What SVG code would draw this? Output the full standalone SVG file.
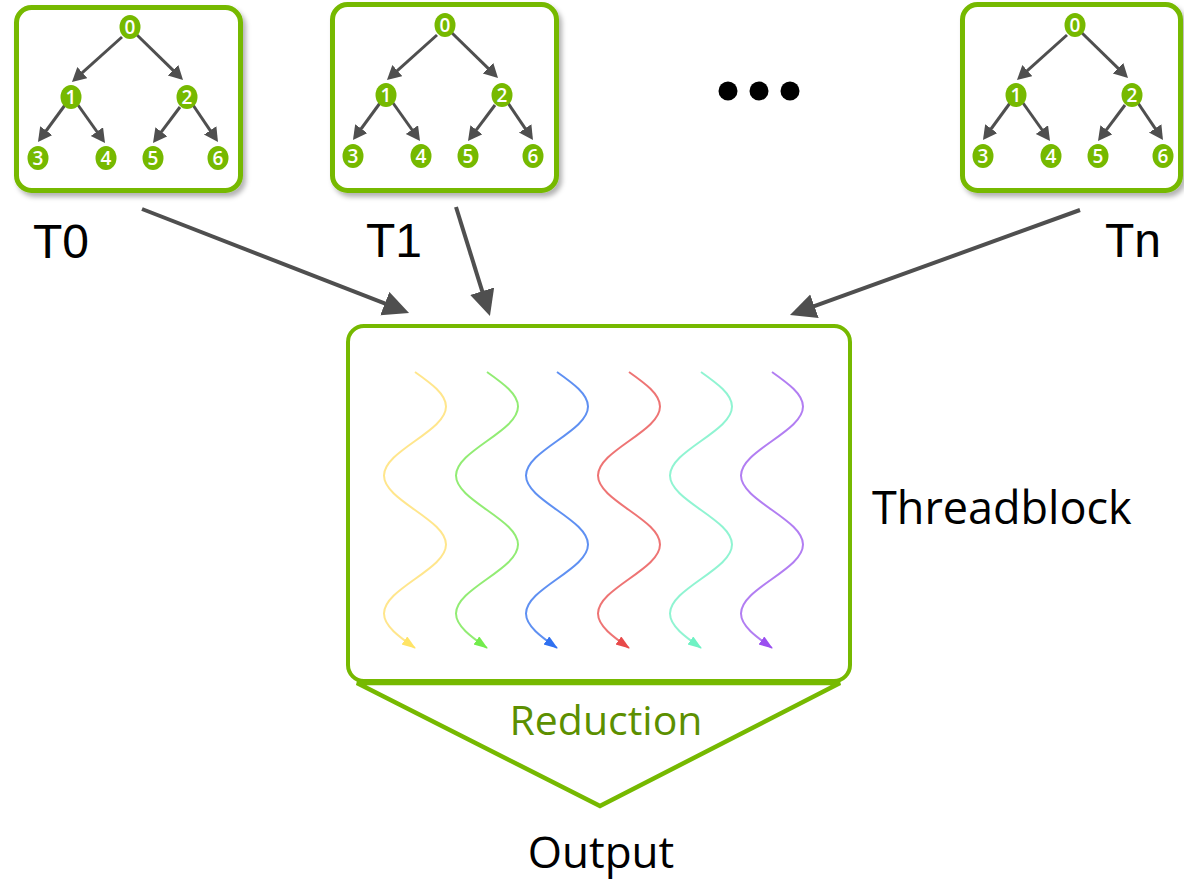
<svg xmlns="http://www.w3.org/2000/svg" width="1184" height="881" viewBox="0 0 1184 881">
  <style>
    .box { fill: #fff; stroke: #76b900; stroke-width: 5; }
    .node { fill: #76b900; }
    .nlabel { fill: #fff; font-family: "Open Sans", "DejaVu Sans", sans-serif; font-size: 19px; font-weight: 600; text-anchor: middle; }
    .edge { stroke: #4f4f4f; stroke-width: 3; fill: none; marker-end: url(#treeHead); }
    .link { stroke: #4f4f4f; stroke-width: 4; fill: none; marker-end: url(#linkHead); }
    .tlabel { font-family: "Liberation Sans", Arial, sans-serif; font-size: 48px; fill: #000; }
    .caption { font-family: "Open Sans", "DejaVu Sans", sans-serif; fill: #000; }
    .wave { fill: none; stroke-width: 2; }
  </style>
  <defs>
    <filter id="shadow" x="-10%" y="-10%" width="125%" height="125%">
      <feDropShadow dx="3" dy="4" stdDeviation="2.5" flood-color="#000" flood-opacity="0.3"/>
    </filter>
    <marker id="treeHead" markerUnits="userSpaceOnUse" markerWidth="15" markerHeight="16" refX="6" refY="7.5" orient="auto">
      <path d="M0,0 L14,7.5 L0,15 z" fill="#4f4f4f"/>
    </marker>
    <marker id="linkHead" markerUnits="userSpaceOnUse" markerWidth="28" markerHeight="26" refX="6" refY="12.5" orient="auto">
      <path d="M0,0 L26,12.5 L0,25 z" fill="#4f4f4f"/>
    </marker>
    <marker id="hYellow" markerUnits="userSpaceOnUse" markerWidth="16" markerHeight="11" refX="13" refY="5" orient="auto">
      <path d="M0,0 L14,5 L0,10 z" fill="#ffe466"/>
    </marker>
    <marker id="hGreen" markerUnits="userSpaceOnUse" markerWidth="16" markerHeight="11" refX="13" refY="5" orient="auto">
      <path d="M0,0 L14,5 L0,10 z" fill="#72ec4c"/>
    </marker>
    <marker id="hBlue" markerUnits="userSpaceOnUse" markerWidth="16" markerHeight="11" refX="13" refY="5" orient="auto">
      <path d="M0,0 L14,5 L0,10 z" fill="#2f70f0"/>
    </marker>
    <marker id="hRed" markerUnits="userSpaceOnUse" markerWidth="16" markerHeight="11" refX="13" refY="5" orient="auto">
      <path d="M0,0 L14,5 L0,10 z" fill="#e84a4a"/>
    </marker>
    <marker id="hTeal" markerUnits="userSpaceOnUse" markerWidth="16" markerHeight="11" refX="13" refY="5" orient="auto">
      <path d="M0,0 L14,5 L0,10 z" fill="#6ff2c4"/>
    </marker>
    <marker id="hPurple" markerUnits="userSpaceOnUse" markerWidth="16" markerHeight="11" refX="13" refY="5" orient="auto">
      <path d="M0,0 L14,5 L0,10 z" fill="#9b4ff0"/>
    </marker>
  </defs>

  <rect width="1184" height="881" fill="#fff"/>

  <!-- Tree T0 -->
  <g id="tree-T0" transform="translate(130,27)">
    <rect class="box" x="-113.5" y="-19.5" width="224" height="183" rx="15" filter="url(#shadow)"/>
    <path class="edge" d="M-8,10 L-52.1,49.6"/>
    <path class="edge" d="M7,8 L47.3,47.4"/>
    <path class="edge" d="M-65,78 L-87.3,108.5"/>
    <path class="edge" d="M-52,78 L-29.6,109.5"/>
    <path class="edge" d="M50,80 L27.8,109.6"/>
    <path class="edge" d="M63,78 L83.5,108.4"/>
    <ellipse class="node" cx="0" cy="0" rx="10.5" ry="12"/><text class="nlabel" x="0" y="7">0</text>
    <ellipse class="node" cx="-59" cy="70" rx="10.5" ry="12"/><text class="nlabel" x="-59" y="77">1</text>
    <ellipse class="node" cx="57" cy="70" rx="10.5" ry="12"/><text class="nlabel" x="57" y="77">2</text>
    <ellipse class="node" cx="-92" cy="131" rx="10.5" ry="12"/><text class="nlabel" x="-92" y="138">3</text>
    <ellipse class="node" cx="-24" cy="131" rx="10.5" ry="12"/><text class="nlabel" x="-24" y="138">4</text>
    <ellipse class="node" cx="23" cy="131" rx="10.5" ry="12"/><text class="nlabel" x="23" y="138">5</text>
    <ellipse class="node" cx="88" cy="131" rx="10.5" ry="12"/><text class="nlabel" x="88" y="138">6</text>
  </g>

  <!-- Tree T1 -->
  <g id="tree-T1" transform="translate(445,25)">
    <rect class="box" x="-112.5" y="-20.5" width="224" height="186" rx="15" filter="url(#shadow)"/>
    <path class="edge" d="M-8,10 L-52.1,49.6"/>
    <path class="edge" d="M7,8 L47.3,47.4"/>
    <path class="edge" d="M-65,78 L-87.3,108.5"/>
    <path class="edge" d="M-52,78 L-29.6,109.5"/>
    <path class="edge" d="M50,80 L27.8,109.6"/>
    <path class="edge" d="M63,78 L83.5,108.4"/>
    <ellipse class="node" cx="0" cy="0" rx="10.5" ry="12"/><text class="nlabel" x="0" y="7">0</text>
    <ellipse class="node" cx="-59" cy="70" rx="10.5" ry="12"/><text class="nlabel" x="-59" y="77">1</text>
    <ellipse class="node" cx="57" cy="70" rx="10.5" ry="12"/><text class="nlabel" x="57" y="77">2</text>
    <ellipse class="node" cx="-92" cy="131" rx="10.5" ry="12"/><text class="nlabel" x="-92" y="138">3</text>
    <ellipse class="node" cx="-24" cy="131" rx="10.5" ry="12"/><text class="nlabel" x="-24" y="138">4</text>
    <ellipse class="node" cx="23" cy="131" rx="10.5" ry="12"/><text class="nlabel" x="23" y="138">5</text>
    <ellipse class="node" cx="88" cy="131" rx="10.5" ry="12"/><text class="nlabel" x="88" y="138">6</text>
  </g>

  <!-- Tree Tn -->
  <g id="tree-Tn" transform="translate(1075,25)">
    <rect class="box" x="-112.5" y="-20.5" width="218" height="186" rx="15" filter="url(#shadow)"/>
    <path class="edge" d="M-8,10 L-52.1,49.6"/>
    <path class="edge" d="M7,8 L47.3,47.4"/>
    <path class="edge" d="M-65,78 L-87.3,108.5"/>
    <path class="edge" d="M-52,78 L-29.6,109.5"/>
    <path class="edge" d="M50,80 L27.8,109.6"/>
    <path class="edge" d="M63,78 L83.5,108.4"/>
    <ellipse class="node" cx="0" cy="0" rx="10.5" ry="12"/><text class="nlabel" x="0" y="7">0</text>
    <ellipse class="node" cx="-59" cy="70" rx="10.5" ry="12"/><text class="nlabel" x="-59" y="77">1</text>
    <ellipse class="node" cx="57" cy="70" rx="10.5" ry="12"/><text class="nlabel" x="57" y="77">2</text>
    <ellipse class="node" cx="-92" cy="131" rx="10.5" ry="12"/><text class="nlabel" x="-92" y="138">3</text>
    <ellipse class="node" cx="-24" cy="131" rx="10.5" ry="12"/><text class="nlabel" x="-24" y="138">4</text>
    <ellipse class="node" cx="23" cy="131" rx="10.5" ry="12"/><text class="nlabel" x="23" y="138">5</text>
    <ellipse class="node" cx="88" cy="131" rx="10.5" ry="12"/><text class="nlabel" x="88" y="138">6</text>
  </g>

  <!-- tree labels -->
  <g id="labels">
    <text class="tlabel" x="33" y="258">T0</text>
    <text class="tlabel" x="366" y="257">T1</text>
    <text class="tlabel" x="1105" y="257">Tn</text>
  </g>

  <!-- ellipsis between T1 and Tn -->
  <g id="more" fill="#000">
    <circle cx="728" cy="91" r="9.5"/>
    <circle cx="759" cy="91" r="9.5"/>
    <circle cx="790" cy="91" r="9.5"/>
  </g>

  <!-- connectors into the threadblock -->
  <g id="connectors">
    <path class="link" d="M142,209 L390.4,305.7"/>
    <path class="link" d="M456,207 L484,296.9"/>
    <path class="link" d="M1080,210 L808.8,308.2"/>
  </g>

  <!-- threadblock with its threads -->
  <g id="threadblock">
    <rect x="348" y="326" width="502" height="355" rx="16" fill="#fff" stroke="#76b900" stroke-width="4"/>
    <g id="threads">
      <path class="wave" stroke="#ffe68c" marker-end="url(#hYellow)" d="M415,372 c15.88,11.25 31,22.01 31,34.5 c0,12.49 -15.12,23.25 -31,34.5 c-15.88,11.25 -31,22.01 -31,34.5 c0,12.49 15.12,23.25 31,34.5 c15.88,11.25 31,22.01 31,34.5 c0,12.49 -15.12,23.25 -31,34.5 c-15.88,11.25 -31,22.01 -31,34.5 c0,12.49 15.12,23.25 31,34.5"/>
      <path class="wave" stroke="#92ec74" marker-end="url(#hGreen)" d="M487,372 c15.88,11.25 31,22.01 31,34.5 c0,12.49 -15.12,23.25 -31,34.5 c-15.88,11.25 -31,22.01 -31,34.5 c0,12.49 15.12,23.25 31,34.5 c15.88,11.25 31,22.01 31,34.5 c0,12.49 -15.12,23.25 -31,34.5 c-15.88,11.25 -31,22.01 -31,34.5 c0,12.49 15.12,23.25 31,34.5"/>
      <path class="wave" stroke="#5f90f2" marker-end="url(#hBlue)" d="M557,372 c15.88,11.25 31,22.01 31,34.5 c0,12.49 -15.12,23.25 -31,34.5 c-15.88,11.25 -31,22.01 -31,34.5 c0,12.49 15.12,23.25 31,34.5 c15.88,11.25 31,22.01 31,34.5 c0,12.49 -15.12,23.25 -31,34.5 c-15.88,11.25 -31,22.01 -31,34.5 c0,12.49 15.12,23.25 31,34.5"/>
      <path class="wave" stroke="#ee7474" marker-end="url(#hRed)" d="M629,372 c15.88,11.25 31,22.01 31,34.5 c0,12.49 -15.12,23.25 -31,34.5 c-15.88,11.25 -31,22.01 -31,34.5 c0,12.49 15.12,23.25 31,34.5 c15.88,11.25 31,22.01 31,34.5 c0,12.49 -15.12,23.25 -31,34.5 c-15.88,11.25 -31,22.01 -31,34.5 c0,12.49 15.12,23.25 31,34.5"/>
      <path class="wave" stroke="#90f4d2" marker-end="url(#hTeal)" d="M701,372 c15.88,11.25 31,22.01 31,34.5 c0,12.49 -15.12,23.25 -31,34.5 c-15.88,11.25 -31,22.01 -31,34.5 c0,12.49 15.12,23.25 31,34.5 c15.88,11.25 31,22.01 31,34.5 c0,12.49 -15.12,23.25 -31,34.5 c-15.88,11.25 -31,22.01 -31,34.5 c0,12.49 15.12,23.25 31,34.5"/>
      <path class="wave" stroke="#b27ef2" marker-end="url(#hPurple)" d="M772,372 c15.88,11.25 31,22.01 31,34.5 c0,12.49 -15.12,23.25 -31,34.5 c-15.88,11.25 -31,22.01 -31,34.5 c0,12.49 15.12,23.25 31,34.5 c15.88,11.25 31,22.01 31,34.5 c0,12.49 -15.12,23.25 -31,34.5 c-15.88,11.25 -31,22.01 -31,34.5 c0,12.49 15.12,23.25 31,34.5"/>
    </g>
    <text class="caption" x="872" y="524" font-size="45">Threadblock</text>
  </g>

  <!-- reduction funnel -->
  <g id="reduction">
    <path d="M357,683 L840,683 L600,806 Z" fill="none" stroke="#76b900" stroke-width="4.5" stroke-linejoin="miter"/>
    <text class="caption" x="606" y="735" font-size="41" text-anchor="middle" style="fill:#5c8f00">Reduction</text>
  </g>

  <!-- result -->
  <g id="output">
    <text class="caption" x="601" y="868" font-size="44" text-anchor="middle">Output</text>
  </g>
</svg>
